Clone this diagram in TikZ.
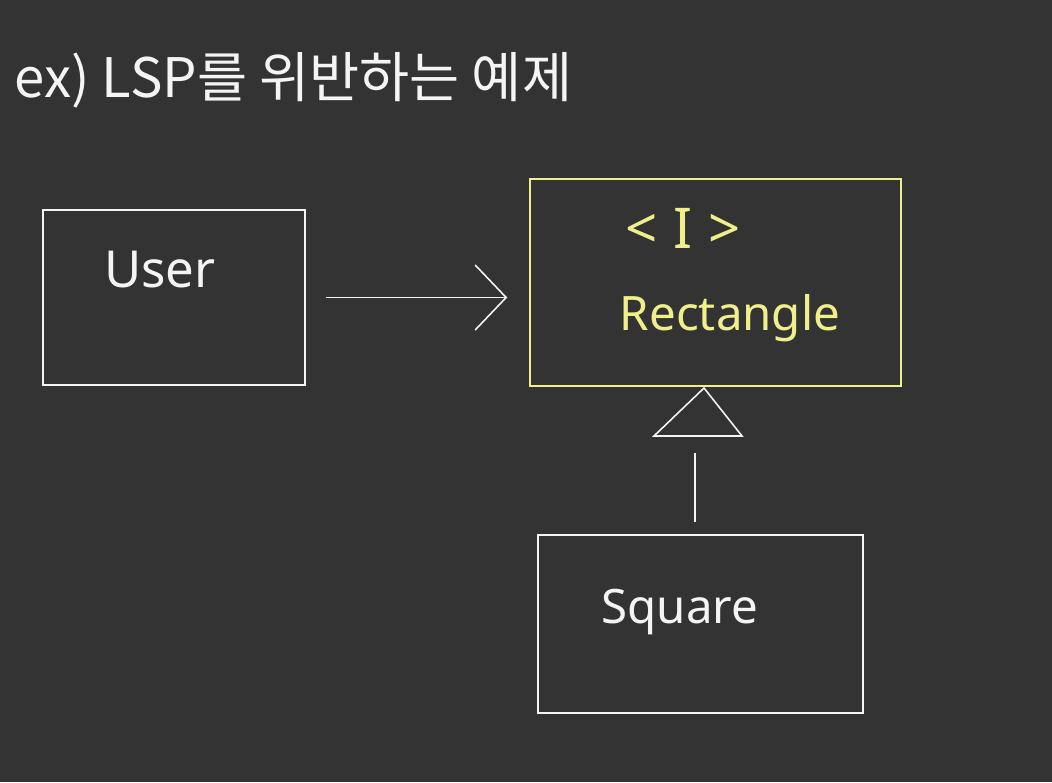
\documentclass[tikz,border=0pt]{standalone}
\usepackage{fontspec}
\setmainfont{Noto Sans}
\newfontfamily\kofont{Noto Sans CJK KR}
\usetikzlibrary{positioning,arrows.meta}
\definecolor{board}{HTML}{333333}
\definecolor{chalk}{HTML}{F4F4F4}
\definecolor{marker}{HTML}{EFEF8C}
\tikzset{
box/.style={draw=chalk, line width=0.9pt, rectangle, inner sep=0pt},
hand/.style={text=chalk, font=\fontsize{27}{32}\selectfont, inner sep=0pt},
line/.style={draw=chalk, line width=0.9pt},
link/.style={line, -{Straight Barb[length=0.62cm, width=1.3cm, line width=0.9pt]}},
}

\begin{document}
\begin{tikzpicture}[x=0.02cm, y=-0.02cm]
\fill[board] (0,0) rectangle (1052,782);
\useasboundingbox (0,0) rectangle (1052,782);

% title
\node[hand, anchor=west, font=\kofont\fontsize{31}{36}\selectfont] (title) at (14,80) {ex) LSP를 위반하는 예제};

% classes
\node[box, minimum width=5.24cm, minimum height=3.5cm] (user) at (174,297.5) {};
\node[box, draw=marker, minimum width=7.42cm, minimum height=4.14cm] (rect) at (715.5,282.5) {};
\node[box, minimum width=6.5cm, minimum height=3.56cm] (square) at (700.5,624) {};

\node[hand, font=\fontsize{29}{34}\selectfont] (usertext) at (160,270) {User};
\node[hand, text=marker, font=\fontsize{32}{38}\selectfont] (itag) at (683,228) {<\;I\;>};
\node[hand, text=marker] (recttext) at (730,318) {Rectangle};
\node[hand] (squaretext) at (680,612) {Square};

% uses
\draw[link] ([xshift=0.4cm]user.east) -- ([xshift=-0.44cm]rect.west |- user.east);

% inherits
\coordinate (apex) at (704,388);
\coordinate (baseL) at (654,436);
\coordinate (baseR) at (742,436);
\draw[line] (apex) -- (baseL) -- (baseR) -- cycle;
\coordinate (stem) at (695,453);
\coordinate (stemend) at ([yshift=0.24cm]square.north);
\draw[line] (stem) -- (stem |- stemend);
\end{tikzpicture}
\end{document}
